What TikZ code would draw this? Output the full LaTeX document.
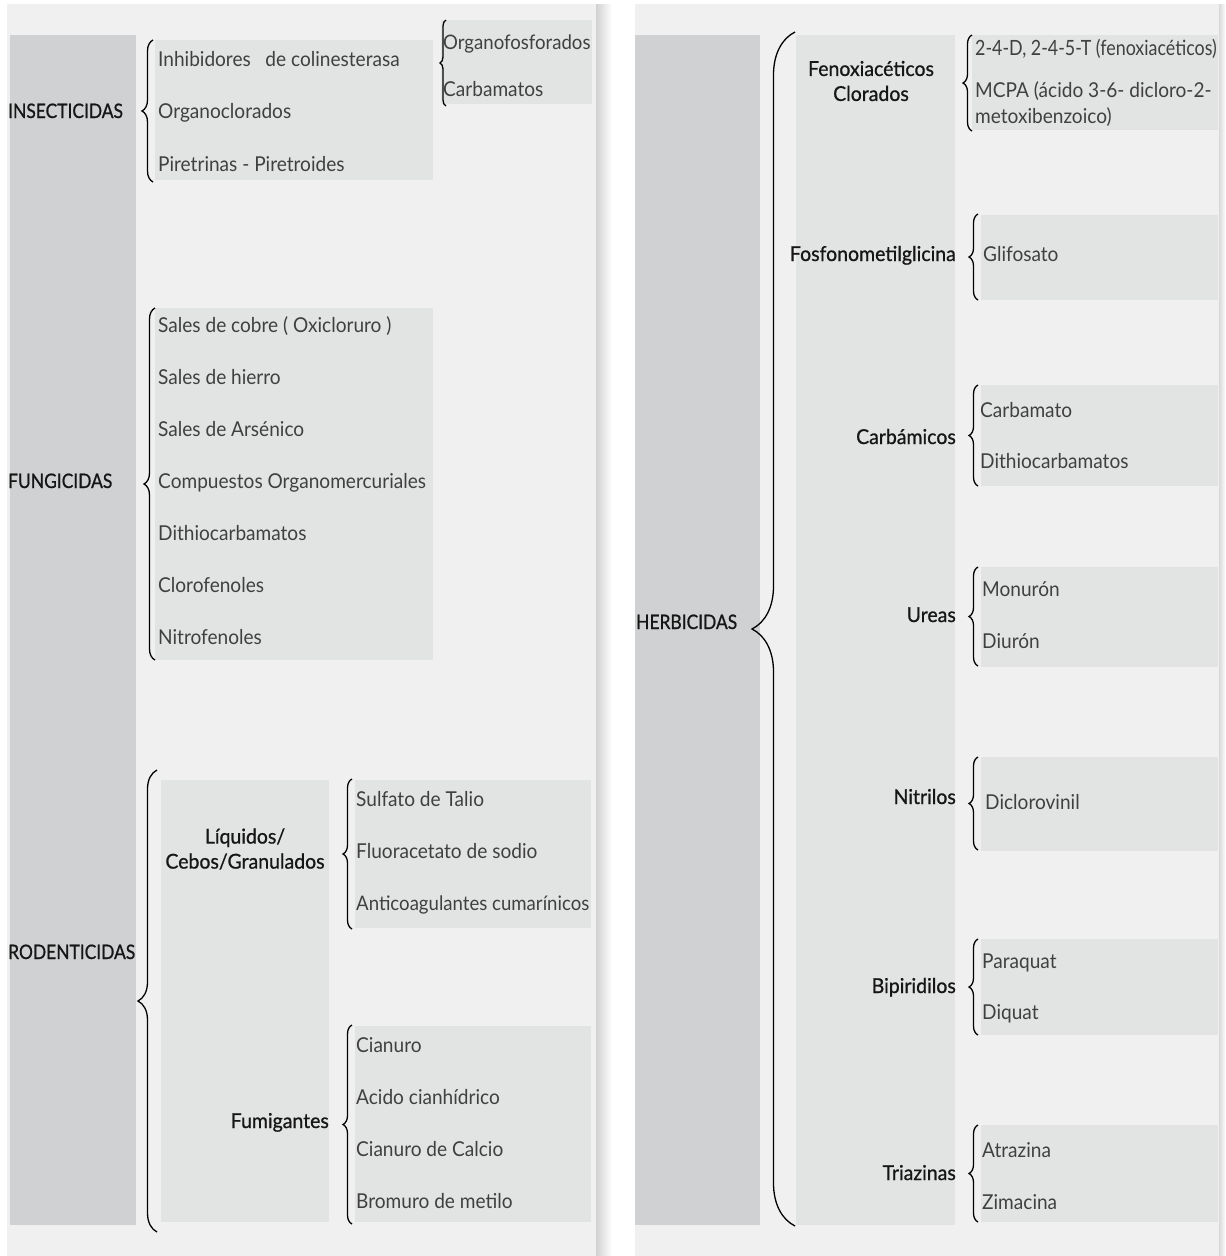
\documentclass[tikz,border=0pt]{standalone}
\usepackage{fontspec}
\setmainfont{Lato}[FakeStretch=0.93]
\newfontfamily\capsfam{Lato}[FakeStretch=0.87, FakeBold=0.8]
\newfontfamily\subfam{Lato}[FakeStretch=0.95, FakeBold=0.8]
\newfontfamily\narrowfam{Lato}[FakeStretch=0.85]
\usetikzlibrary{decorations.pathreplacing}
\definecolor{panelbg}{HTML}{F0F0F0}
\definecolor{stripbg}{HTML}{D0D1D3}
\definecolor{itembg}{HTML}{E2E3E3}
\definecolor{itemtxt}{HTML}{404040}
\definecolor{labtxt}{HTML}{161616}
\newcommand{\itemfont}{\fontsize{20.5}{24}\selectfont}
\newcommand{\catfont}{\capsfam\fontsize{20}{24}\selectfont}
\newcommand{\labfont}{\subfam\fontsize{20.5}{25}\selectfont}
\begin{document}
\begin{tikzpicture}[x=1pt,y=-1pt,
  item/.style={anchor=base west, inner sep=0pt, yshift=-7pt, font=\itemfont, text=itemtxt},
  cat/.style={anchor=base west, inner sep=0pt, yshift=-7pt, font=\catfont, text=labtxt},
  lab/.style={anchor=base east, inner sep=0pt, yshift=-7pt, font=\labfont, text=labtxt},
  clab/.style={anchor=center, inner sep=0pt, align=center, font=\labfont, text=labtxt},
  bgbox/.style={fill=itembg, draw=none},
  brc/.style={decorate, decoration={brace, amplitude=#1}, line width=1.3pt, black}]
\useasboundingbox (0,0) rectangle (1226,1256);
\fill[white] (0,0) rectangle (1226,1256);
% panels and shadows
\fill[panelbg] (7,4) rectangle (596,1256);
\shade[left color=black!18, right color=white] (596,4) rectangle (612,1256);
\fill[panelbg] (635,4) rectangle (1219,1256);
\shade[left color=black!15, right color=white] (1219,4) rectangle (1226,1256);
% strips
\fill[stripbg] (10,35) rectangle (136,1225);
\fill[stripbg] (635,35) rectangle (760,1225);

% ===== left panel =====
\node[cat] (ins) at (8,111) {INSECTICIDAS};
\node[cat] (fun) at (8,481) {FUNGICIDAS};
\node[cat] (rod) at (8,952) {RODENTICIDAS};

% insecticidas
\fill[bgbox] (155,40) rectangle (433,180);
\node[item] (i1) at (158,59) {Inhibidores\ \ \ de colinesterasa};
\node[item] (i2) at (158,111) {Organoclorados};
\node[item] (i3) at (158,164) {Piretrinas - Piretroides};
\coordinate (insT) at (153,40);
\coordinate (insB) at (153,182);
\draw[brc=11] (insB) -- (insT);
\fill[bgbox] (441,20) rectangle (592,104);
\node[item, font=\fontsize{20}{24}\selectfont] (o1) at (443,42) {Organofosforados};
\node[item] (o2) at (443,89) {Carbamatos};
\coordinate (orgT) at (446,20);
\coordinate (orgB) at (446,106);
\draw[brc=6] (orgB) -- (orgT);

% fungicidas
\fill[bgbox] (155,308) rectangle (433,660);
\node[item] (f1) at (158,325) {Sales de cobre ( Oxicloruro )};
\node[item] (f2) at (158,377) {Sales de hierro};
\node[item] (f3) at (158,429) {Sales de Arsénico};
\node[item] (f4) at (158,481) {Compuestos Organomercuriales};
\node[item] (f5) at (158,533) {Dithiocarbamatos};
\node[item] (f6) at (158,585) {Clorofenoles};
\node[item] (f7) at (158,637) {Nitrofenoles};
\coordinate (funT) at (155,308);
\coordinate (funB) at (155,660);
\draw[brc=11] (funB) -- (funT);

% rodenticidas
\fill[bgbox] (161,780) rectangle (329,1222);
\coordinate (rodT) at (157,770);
\coordinate (rodB) at (157,1232);
\draw[brc=19] (rodB) -- (rodT);
\node[clab] (liq) at (245,849) {Líquidos/\\Cebos/Granulados};
\node[lab] (fum) at (329,1121) {Fumigantes};
\fill[bgbox] (355,780) rectangle (591,928);
\node[item] (r1) at (356,799) {Sulfato de Talio};
\node[item] (r2) at (356,851) {Fluoracetato de sodio};
\node[item, font=\fontsize{20}{24}\selectfont] (r3) at (356,903) {Anticoagulantes cumarínicos};
\coordinate (liqT) at (352,779);
\coordinate (liqB) at (352,929);
\draw[brc=9] (liqB) -- (liqT);
\fill[bgbox] (355,1026) rectangle (591,1222);
\node[item] (m1) at (356,1045) {Cianuro};
\node[item] (m2) at (356,1097) {Acido cianhídrico};
\node[item] (m3) at (356,1149) {Cianuro de Calcio};
\node[item] (m4) at (356,1201) {Bromuro de metilo};
\coordinate (fumT) at (352,1025);
\coordinate (fumB) at (352,1224);
\draw[brc=9] (fumB) -- (fumT);

% ===== right panel =====
\node[cat] (her) at (636,622) {HERBICIDAS};
\coordinate (herT) at (795,32);
\coordinate (herB) at (795,1226);
\draw[brc=43] (herB) -- (herT);
\fill[bgbox] (796,35) rectangle (955,1225);

% group 1
\node[clab] (fen) at (871,81) {Fenoxiacéticos\\Clorados};
\fill[bgbox] (972,35) rectangle (1218,130);
\node[item, font=\narrowfam\fontsize{21}{24}\selectfont] (h11) at (975,48) {2-4-D, 2-4-5-T (fenoxiacéticos)};
\node[item] (h12) at (975,90) {MCPA (ácido 3-6- dicloro-2-};
\node[item] (h13) at (975,116) {metoxibenzoico)};
\coordinate (g1T) at (972,35);
\coordinate (g1B) at (972,131);
\draw[brc=9] (g1B) -- (g1T);

% group 2
\node[lab] (fos) at (956,254) {Fosfonometilglicina};
\fill[bgbox] (981,215) rectangle (1218,300);
\node[item] (h21) at (983,254) {Glifosato};
\coordinate (g2T) at (978,214);
\coordinate (g2B) at (978,300);
\draw[brc=9] (g2B) -- (g2T);

% group 3
\node[lab] (carb) at (956,437) {Carbámicos};
\fill[bgbox] (981,385) rectangle (1218,486);
\node[item] (h31) at (980,410) {Carbamato};
\node[item] (h32) at (980,461) {Dithiocarbamatos};
\coordinate (g3T) at (978,385);
\coordinate (g3B) at (978,486);
\draw[brc=9] (g3B) -- (g3T);

% group 4
\node[lab] (ure) at (956,615) {Ureas};
\fill[bgbox] (981,567) rectangle (1218,667);
\node[item] (h41) at (982,589) {Monurón};
\node[item] (h42) at (982,641) {Diurón};
\coordinate (g4T) at (978,567);
\coordinate (g4B) at (978,666);
\draw[brc=9] (g4B) -- (g4T);

% group 5
\node[lab] (nit) at (956,797) {Nitrilos};
\fill[bgbox] (981,757) rectangle (1218,851);
\node[item] (h51) at (985,802) {Diclorovinil};
\coordinate (g5T) at (978,757);
\coordinate (g5B) at (978,850);
\draw[brc=9] (g5B) -- (g5T);

% group 6
\node[lab] (bip) at (956,986) {Bipiridilos};
\fill[bgbox] (981,939) rectangle (1218,1035);
\node[item] (h61) at (982,961) {Paraquat};
\node[item] (h62) at (982,1012) {Diquat};
\coordinate (g6T) at (978,939);
\coordinate (g6B) at (978,1035);
\draw[brc=9] (g6B) -- (g6T);

% group 7
\node[lab] (tri) at (956,1173) {Triazinas};
\fill[bgbox] (981,1125) rectangle (1218,1222);
\node[item] (h71) at (982,1150) {Atrazina};
\node[item] (h72) at (982,1202) {Zimacina};
\coordinate (g7T) at (978,1125);
\coordinate (g7B) at (978,1222);
\draw[brc=9] (g7B) -- (g7T);
\end{tikzpicture}
\end{document}
